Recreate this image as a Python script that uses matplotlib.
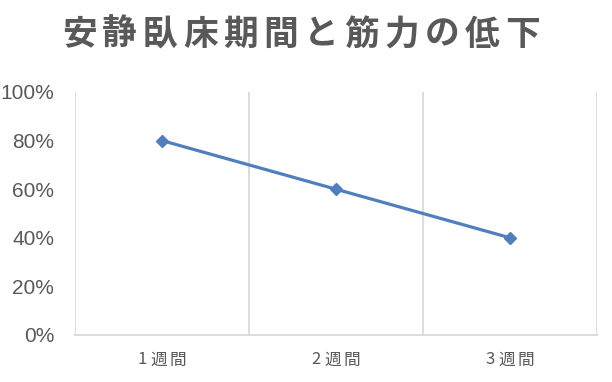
import matplotlib
matplotlib.use("Agg")
import matplotlib.pyplot as plt
from matplotlib.ticker import FuncFormatter
from matplotlib.transforms import blended_transform_factory, ScaledTranslation

title = "安静臥床期間と筋力の低下"
categories = ["1週間", "2週間", "3週間"]
values = [80, 60, 40]
yticks = [0, 20, 40, 60, 80, 100]

W, H = 612, 382
fig = plt.figure(figsize=(W/100, H/100), dpi=100)
ax = fig.add_axes([75/W, 1-335/H, (597-75)/W, (335-92)/H])

xs = [i + 0.5 for i in range(len(categories))]
ax.plot(xs, values, color="#4F7FBF", lw=2.3, marker="D", markersize=6.5,
        markerfacecolor="#4F7FBF", markeredgecolor="#4F7FBF", zorder=3)

ax.set_xlim(0, len(categories))
ax.set_ylim(0, 100)
for b in range(len(categories) + 1):
    ax.axvline(b, color="#D9D9D9", lw=1.3, zorder=1)

for s in ["top", "right", "left"]:
    ax.spines[s].set_visible(False)
ax.spines["bottom"].set_color("#D9D9D9")
ax.spines["bottom"].set_linewidth(1.3)

ax.set_yticks(yticks)
ax.yaxis.set_major_formatter(FuncFormatter(lambda v, p: f"{int(v)}%"))
ax.tick_params(axis="y", length=0, pad=15, labelsize=15, labelcolor="#595959")
for t in ax.get_yticklabels():
    t.set_fontfamily(["Liberation Sans", "DejaVu Sans"])

# x labels drawn per character with small letter spacing
ax.set_xticks(xs)
ax.set_xticklabels([])
ax.tick_params(axis="x", length=0)
trans = blended_transform_factory(ax.transData, fig.transFigure)
fam = ["Noto Sans CJK JP", "DejaVu Sans"]
for x, lab in zip(xs, categories):
    widths = [9 if c.isdigit() else 16.5 for c in lab]
    gap = 3.5
    total = sum(widths) + gap * (len(lab) - 1)
    off = -total / 2
    for c, w in zip(lab, widths):
        tr = trans + ScaledTranslation((off + w / 2) / 100, 0, fig.dpi_scale_trans)
        fig.text(x, 1 - 360/H, c, transform=tr, ha="center", va="center",
                 fontsize=12, color="#595959", family=fam)
        off += w + gap

# title with letter spacing
pitch = 40.3
x0 = 301 - pitch * (len(title) - 1) / 2
for i, c in enumerate(title):
    fig.text((x0 + i * pitch) / W, 1 - 34/H, c, ha="center", va="center",
             fontsize=25, fontweight="bold", color="#595959", family=fam)

fig.savefig("out.png", dpi=100, facecolor="white")
